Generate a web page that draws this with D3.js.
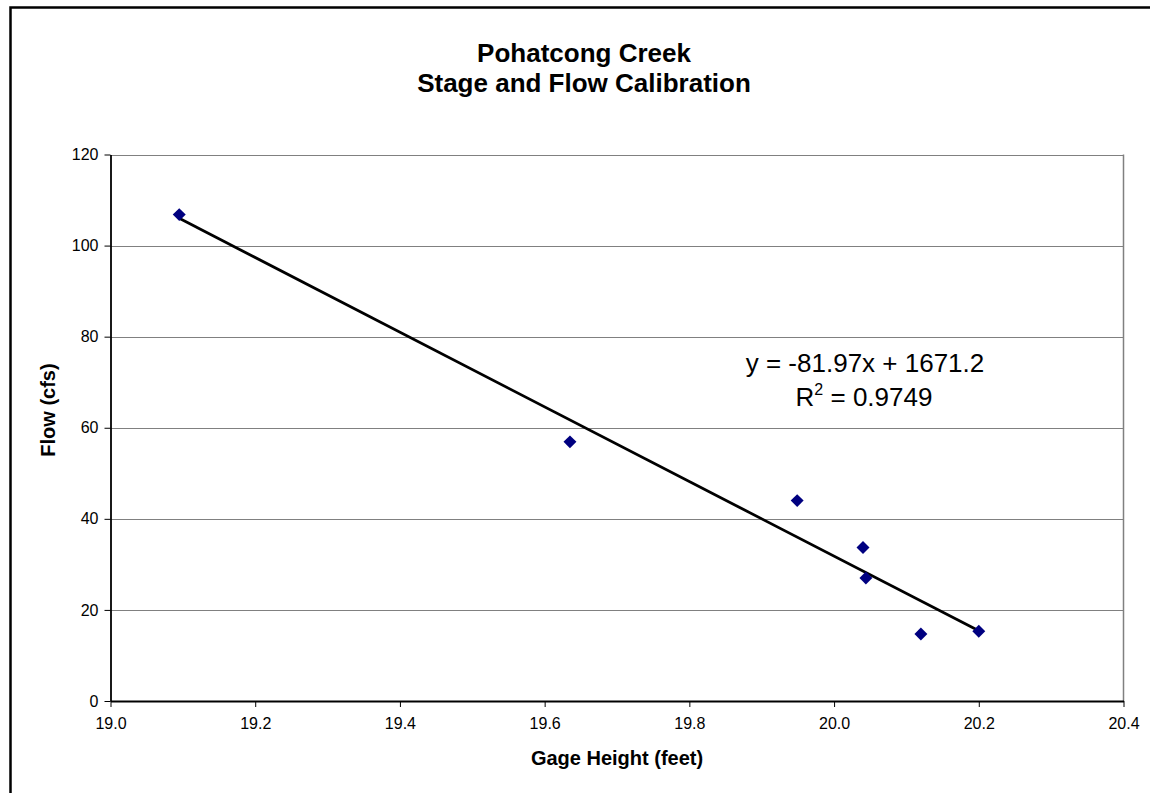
<!DOCTYPE html>
<html>
<head>
<meta charset="utf-8">
<script src="https://cdn.jsdelivr.net/npm/d3@7"></script>
<style>
  html, body { margin: 0; padding: 0; background: #fff; }
  svg { display: block; font-family: "Liberation Sans", Arial, sans-serif; }
</style>
</head>
<body>
<svg id="chart" width="1150" height="793"></svg>
<script>
// Gage height (feet) and measured flow (cfs)
const gageHeight = [19.095, 19.635, 19.949, 20.040, 20.044, 20.120, 20.200];
const flow = [106.8, 56.9, 44.0, 33.7, 27.0, 14.7, 15.3];

// Linear trendline coefficients
const slope = -81.97;
const intercept = 1671.2;
const rSquared = 0.9749;

const xTicks = [19.0, 19.2, 19.4, 19.6, 19.8, 20.0, 20.2, 20.4];
const yTicks = [0, 20, 40, 60, 80, 100, 120];

const titleLines = ["Pohatcong Creek", "Stage and Flow Calibration"];
const xTitle = "Gage Height (feet)";
const yTitle = "Flow (cfs)";

const svg = d3.select("#chart");

// outer chart frame
svg.append("rect")
  .attr("x", 10.5).attr("y", 7.5)
  .attr("width", 1160).attr("height", 810)
  .attr("fill", "none").attr("stroke", "#000").attr("stroke-width", 2.5);

const plot = { left: 110.5, right: 1123.5, top: 154.5, bottom: 701 };

const x = d3.scaleLinear().domain([19.0, 20.4]).range([plot.left, plot.right]);
const y = d3.scaleLinear().domain([0, 120]).range([plot.bottom, plot.top]);

// horizontal gridlines
svg.append("g").selectAll("line")
  .data(yTicks.filter(d => d > 0))
  .join("line")
  .attr("x1", plot.left).attr("x2", plot.right)
  .attr("y1", d => Math.round(y(d)) + 0.5).attr("y2", d => Math.round(y(d)) + 0.5)
  .attr("stroke", "#808080").attr("stroke-width", 1.2);

// right plot border
svg.append("line")
  .attr("x1", plot.right).attr("x2", plot.right)
  .attr("y1", plot.top).attr("y2", plot.bottom)
  .attr("stroke", "#808080").attr("stroke-width", 1.5);

// axes
const xAxis = d3.axisBottom(x).tickValues(xTicks).tickFormat(d3.format(".1f"))
  .tickSizeInner(6).tickSizeOuter(0).tickPadding(11);
const yAxis = d3.axisLeft(y).tickValues(yTicks).tickFormat(d3.format("d"))
  .tickSizeInner(6).tickSizeOuter(0).tickPadding(6);

const gx = svg.append("g").attr("transform", `translate(0,${plot.bottom})`).call(xAxis);
const gy = svg.append("g").attr("transform", `translate(${plot.left},0)`).call(yAxis);

[gx, gy].forEach(g => {
  g.select(".domain").attr("stroke", "#000").attr("stroke-width", 1.8);
  g.selectAll(".tick line").attr("stroke", "#000").attr("stroke-width", 1);
  g.selectAll(".tick text")
    .attr("fill", "#000")
    .style("font-family", '"Liberation Sans", Arial, sans-serif')
    .style("font-size", "16px");
});

// trendline across the observed range
const xMin = d3.min(gageHeight), xMax = d3.max(gageHeight);
svg.append("line")
  .attr("x1", x(xMin)).attr("y1", y(slope * xMin + intercept))
  .attr("x2", x(xMax)).attr("y2", y(slope * xMax + intercept))
  .attr("stroke", "#000").attr("stroke-width", 2.8);

// data markers (diamonds)
const diamond = d3.symbol().type(d3.symbolSquare).size(84);
svg.append("g").selectAll("path")
  .data(gageHeight.map((g, i) => [g, flow[i]]))
  .join("path")
  .attr("d", diamond)
  .attr("transform", d => `translate(${x(d[0])},${y(d[1])}) rotate(45)`)
  .attr("fill", "#000080");

// title
svg.append("text")
  .attr("text-anchor", "middle")
  .style("font-size", "26px").style("font-weight", "bold")
  .selectAll("tspan").data(titleLines).join("tspan")
  .attr("x", 584).attr("y", (d, i) => 62 + i * 30)
  .text(d => d);

// axis titles
svg.append("text")
  .attr("x", 617).attr("y", 765).attr("text-anchor", "middle")
  .style("font-size", "20px").style("font-weight", "bold")
  .text(xTitle);

svg.append("text")
  .attr("transform", "translate(55,410) rotate(-90)")
  .attr("text-anchor", "middle")
  .style("font-size", "20px").style("font-weight", "bold")
  .text(yTitle);

// trendline equation and R²
svg.append("text")
  .attr("x", 865).attr("y", 372).attr("text-anchor", "middle")
  .style("font-size", "26px")
  .text(`y = ${slope}x + ${intercept}`);

const r2 = svg.append("text")
  .attr("x", 864).attr("y", 406).attr("text-anchor", "middle")
  .style("font-size", "26px");
r2.append("tspan").text("R");
r2.append("tspan").attr("dy", -11).style("font-size", "16px").text("2");
r2.append("tspan").attr("dy", 11).text(` = ${rSquared}`);
</script>
</body>
</html>
